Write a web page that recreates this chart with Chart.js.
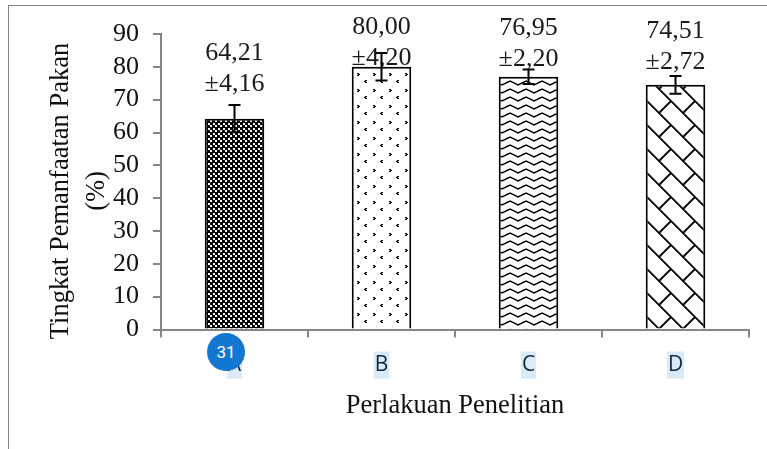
<!DOCTYPE html>
<html>
<head>
<meta charset="utf-8">
<script src="https://cdn.jsdelivr.net/npm/chart.js@4"></script>
<style>
  html, body { margin: 0; padding: 0; background: #fff; overflow: hidden; }
  #wrap { position: relative; width: 767px; height: 449px; }
  #wrap canvas { position: absolute; left: 0; top: 0; }
  /* page frame of the screenshot, only top and left edges are in view */
  #frame { position: absolute; left: 8px; top: 5px; right: -2px; bottom: -2px;
           border-top: 1px solid #808080; border-left: 1px solid #808080; }
  #badge { position: absolute; left: 207px; top: 333px; width: 38px; height: 38px;
           border-radius: 50%; background: #1177d1; color: #fff;
           font: 17px/38px Roboto, sans-serif; text-align: center; }
</style>
</head>
<body>
<div id="wrap">
  <canvas id="chart" width="767" height="449"></canvas>
  <div id="frame"></div>
  <div id="badge">31</div>
</div>
<script>
const categories = ['A', 'B', 'C', 'D'];
const means = [64.21, 80.00, 76.95, 74.51];
const errors = [4.16, 4.20, 2.20, 2.72];
const yTitle = ['Tingkat Pemanfaatan Pakan', '(%)'];
const xTitle = 'Perlakuan Penelitian';
const yMax = 90;
const yStep = 10;

// how far the lower label line sits above each bar top, px
const labelLift = [35, 9, 18, 23];

const SERIF = '"Liberation Serif", serif';

function tile(w, h, draw) {
  const c = document.createElement('canvas');
  c.width = w;
  c.height = h;
  const g = c.getContext('2d');
  g.fillStyle = '#fff';
  g.fillRect(0, 0, w, h);
  g.fillStyle = '#000';
  g.strokeStyle = '#000';
  draw(g);
  return document.getElementById('chart').getContext('2d').createPattern(c, 'repeat');
}

const patterns = [
  // dense checker, mostly black
  tile(5, 5, (g) => {
    g.fillRect(0, 0, 5, 5);
    g.fillStyle = '#fff';
    g.fillRect(0, 0, 2, 2);
    g.fillRect(3, 3, 2, 2);
  }),
  // sparse arrow dots
  tile(16, 16, (g) => {
    g.fillRect(5, 9, 2, 1); g.fillRect(6, 10, 2, 1); g.fillRect(5, 11, 2, 1);
    g.fillRect(13, 0, 2, 1); g.fillRect(12, 1, 2, 1); g.fillRect(13, 2, 2, 1);
  }),
  // zigzag
  tile(16, 8, (g) => {
    g.lineWidth = 1.4;
    g.beginPath();
    g.moveTo(-2, 1); g.lineTo(6, 5); g.lineTo(14, 1); g.lineTo(22, 5);
    g.stroke();
  }),
  // shingle: long falling diagonals with short rising links
  tile(24, 24, (g) => {
    g.lineWidth = 1.8;
    g.beginPath();
    g.moveTo(-1, 5); g.lineTo(19, 25);
    g.moveTo(17, -1); g.lineTo(25, 7);
    g.moveTo(11, 17); g.lineTo(23, 5);
    g.stroke();
  }),
];

const annotatePlugin = {
  id: 'annotate',
  afterDatasetsDraw(chart) {
    const ctx = chart.ctx;
    const x = chart.scales.x;
    const y = chart.scales.y;
    ctx.save();
    means.forEach((m, i) => {
      const px = x.getPixelForValue(i);
      const top = y.getPixelForValue(m);

      ctx.fillStyle = '#1a1a1a';
      ctx.font = '26px ' + SERIF;
      ctx.textAlign = 'center';
      ctx.textBaseline = 'middle';
      ctx.fillText(m.toFixed(2).replace('.', ','), px, top - labelLift[i] - 31);
      ctx.fillText('±' + errors[i].toFixed(2).replace('.', ','), px, top - labelLift[i]);

      const hi = y.getPixelForValue(m + errors[i]);
      const lo = y.getPixelForValue(m - errors[i]);
      ctx.strokeStyle = '#000';
      ctx.lineWidth = 2;
      ctx.beginPath();
      ctx.moveTo(px, hi); ctx.lineTo(px, lo);
      ctx.moveTo(px - 6, hi); ctx.lineTo(px + 6, hi);
      ctx.moveTo(px - 6, lo); ctx.lineTo(px + 6, lo);
      ctx.stroke();
    });

    // two-line y title, sits a bit below the axis centre so the scale title can't do it
    ctx.translate(0, 191);
    ctx.rotate(-Math.PI / 2);
    ctx.fillStyle = '#111';
    ctx.font = '26.5px ' + SERIF;
    ctx.fillText(yTitle[0], 0, 61);
    ctx.fillText(yTitle[1], 0, 97);
    ctx.restore();
  },
};

new Chart(document.getElementById('chart'), {
  type: 'bar',
  data: {
    labels: categories,
    datasets: [{
      data: means,
      backgroundColor: patterns,
      borderColor: '#000',
      borderWidth: 2,
      barPercentage: 0.405,
      categoryPercentage: 1,
    }],
  },
  options: {
    animation: false,
    responsive: false,
    devicePixelRatio: 1,
    layout: { padding: { top: 34, right: 18, left: 0, bottom: 0 } },
    plugins: { legend: { display: false }, tooltip: { enabled: false } },
    scales: {
      x: {
        afterFit(s) { s.height = 119.5; },
        border: { color: '#868686', width: 2 },
        grid: { drawOnChartArea: false, drawTicks: true, tickLength: 8, color: '#868686', lineWidth: 2 },
        ticks: {
          color: '#0f2a43',
          font: { family: '"Open Sans", sans-serif', size: 21 },
          padding: 15,
          maxRotation: 0,
          showLabelBackdrop: true,
          backdropColor: '#dbeaf7',
          backdropPadding: { x: 1, y: 1 },
        },
        title: {
          display: true,
          text: xTitle,
          color: '#111',
          font: { family: SERIF, size: 26.5 },
          padding: { top: 8, bottom: 27 },
        },
      },
      y: {
        min: 0,
        max: yMax,
        afterFit(s) { s.width = 161; },
        border: { color: '#868686', width: 2 },
        grid: { drawOnChartArea: false, drawTicks: true, tickLength: 8, color: '#868686', lineWidth: 2 },
        ticks: {
          stepSize: yStep,
          autoSkip: false,
          color: '#111',
          font: { family: SERIF, size: 26 },
          padding: 14,
        },
      },
    },
  },
  plugins: [annotatePlugin],
});
</script>
</body>
</html>
